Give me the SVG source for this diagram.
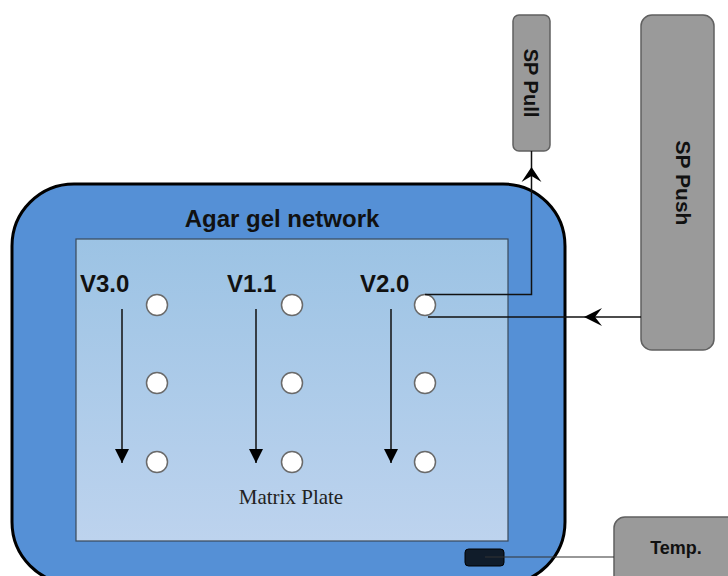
<svg xmlns="http://www.w3.org/2000/svg" width="728" height="576" viewBox="0 0 728 576">
<defs>
<linearGradient id="plateGrad" x1="0" y1="0" x2="0" y2="1">
<stop offset="0" stop-color="#9cc3e4"/>
<stop offset="1" stop-color="#bdd3ee"/>
</linearGradient>
<marker id="fillArrow" viewBox="0 0 14 14" refX="14" refY="7" markerWidth="14" markerHeight="14" markerUnits="userSpaceOnUse" orient="auto">
<path d="M0,0 L14,7 L0,14 Z" fill="#000"/>
</marker>
</defs>
<style>
.box{fill:#9a9a9a;stroke:#606060;stroke-width:1.5}
.lbl{font-family:"Liberation Sans",Arial,sans-serif;font-weight:bold;fill:#111}
.well{fill:#fff;stroke:#6a6a6a;stroke-width:1.5}
.conn{fill:none;stroke:#111;stroke-width:1.5}
</style>
<g id="agar-network">
<rect x="12" y="184" width="553" height="400" rx="62" ry="62" fill="#5590d6" stroke="#000" stroke-width="3"/>
<text class="lbl" x="282" y="227" font-size="24" text-anchor="middle">Agar gel network</text>
</g>
<g id="matrix-plate">
<rect x="76" y="239" width="432" height="302" fill="url(#plateGrad)" stroke="#3a4a5a" stroke-width="1.2"/>
<text x="291" y="504" font-family="'Liberation Serif','Times New Roman',serif" font-size="21" text-anchor="middle" fill="#222">Matrix Plate</text>
</g>
<g id="col-v30">
<text class="lbl" x="80" y="292" font-size="24">V3.0</text>
<circle class="well" cx="157" cy="305" r="10.5"/>
<circle class="well" cx="157" cy="383" r="10.5"/>
<circle class="well" cx="157" cy="462" r="10.5"/>
</g>
<g id="col-v11">
<text class="lbl" x="227" y="292" font-size="24">V1.1</text>
<circle class="well" cx="292" cy="305" r="10.5"/>
<circle class="well" cx="292" cy="383" r="10.5"/>
<circle class="well" cx="292" cy="462" r="10.5"/>
</g>
<g id="col-v20">
<text class="lbl" x="360" y="292" font-size="24">V2.0</text>
<circle class="well" cx="425" cy="305" r="10.5"/>
<circle class="well" cx="425" cy="383" r="10.5"/>
<circle class="well" cx="425" cy="462" r="10.5"/>
</g>
<g id="sp-pull">
<rect class="box" x="513" y="15" width="37" height="136" rx="6" ry="6"/>
<text class="lbl" font-size="20" text-anchor="middle" transform="translate(524,83) rotate(90)">SP Pull</text>
</g>
<g id="sp-push">
<rect class="box" x="641" y="15" width="73" height="335" rx="11" ry="11"/>
<text class="lbl" font-size="21" text-anchor="middle" transform="translate(676,183) rotate(90)">SP Push</text>
</g>
<g id="temp">
<rect class="box" x="614" y="517" width="124" height="70" rx="11" ry="11"/>
<text class="lbl" x="676" y="554" font-size="18" text-anchor="middle">Temp.</text>
</g>
<g id="sensor">
<rect x="465" y="549" width="39" height="17" rx="3.5" ry="3.5" fill="#101c2a" stroke="#000" stroke-width="1"/>
</g>
<g id="connectors">
<line class="conn" x1="122" y1="309" x2="122" y2="463" marker-end="url(#fillArrow)"/>
<line class="conn" x1="256" y1="309" x2="256" y2="463" marker-end="url(#fillArrow)"/>
<line class="conn" x1="391" y1="309" x2="391" y2="463" marker-end="url(#fillArrow)"/>
<path class="conn" d="M425,294.5 H531.5 V151"/>
<path d="M521.5,182 L531.5,167 L541.5,182 L531.5,176 Z" fill="#000"/>
<path class="conn" d="M641,317 H428"/>
<path d="M602,308 L584,317 L602,326 L595,317 Z" fill="#000"/>
<line x1="485" y1="557" x2="614" y2="557" stroke="#333" stroke-width="1.2"/>
</g>
</svg>
